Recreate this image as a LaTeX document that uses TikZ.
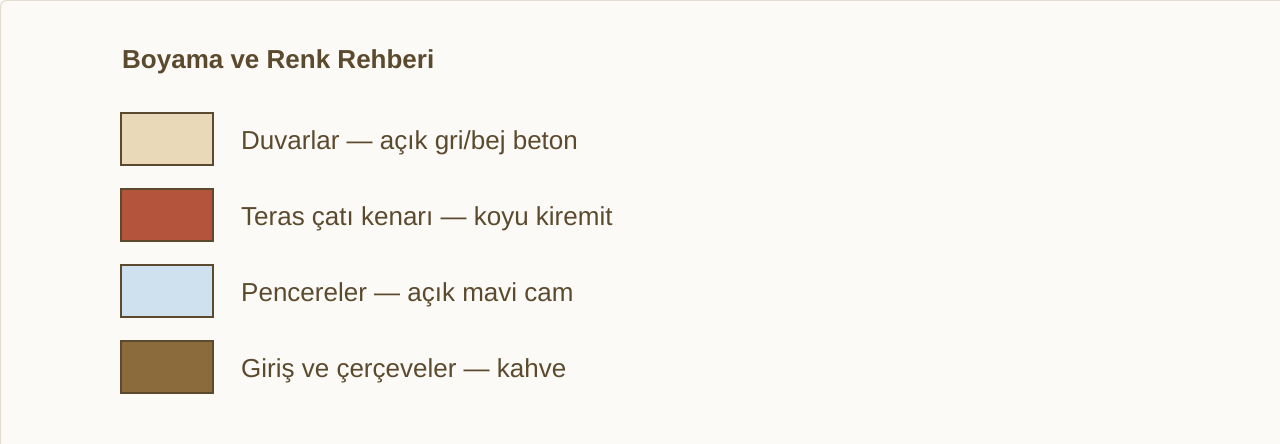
\documentclass[tikz,border=0pt]{standalone}
\usepackage{fontspec}
\setmainfont{Liberation Sans}
\usepackage{tikz}

\definecolor{bgcol}{HTML}{FBFAF6}
\definecolor{framecol}{HTML}{E2DDCC}
\definecolor{inkcol}{HTML}{5C4A2E}
\definecolor{wallcol}{HTML}{E9D9B8}
\definecolor{roofcol}{HTML}{B5543C}
\definecolor{glasscol}{HTML}{CFE1EF}
\definecolor{doorcol}{HTML}{8B6B3C}

\tikzset{
	swatch/.style={draw=inkcol, line width=2pt, minimum width=92pt, minimum height=52pt, inner sep=0pt},
	label text/.style={anchor=base west, inner sep=0pt, text=inkcol, font=\fontsize{26}{30}\selectfont},
}

\begin{document}
\begin{tikzpicture}[x=1pt, y=-1pt]
		\useasboundingbox (0,0) rectangle (1280,444);
		\fill [bgcol] (0,0) rectangle (1280,444);
		\draw [framecol, line width=1pt, rounded corners=6pt] (0.5,0.5) rectangle (1300,464);

		\node [anchor=base west, inner sep=0pt, text=inkcol, font=\fontsize{26}{30}\selectfont\bfseries] (title) at (122,69) {Boyama ve Renk Rehberi};

		\node [swatch, fill=wallcol] (wall) at (167,139) {};
		\node [label text] (walltext) at (241,149) {Duvarlar — açık gri/bej beton};

		\node [swatch, fill=roofcol] (roof) at (167,215) {};
		\node [label text] (rooftext) at (241,225) {Teras çatı kenarı — koyu kiremit};

		\node [swatch, fill=glasscol] (glass) at (167,291) {};
		\node [label text] (glasstext) at (241,301) {Pencereler — açık mavi cam};

		\node [swatch, fill=doorcol] (door) at (167,367) {};
		\node [label text] (doortext) at (241,377) {Giriş ve çerçeveler — kahve};

	\end{tikzpicture}
\end{document}
